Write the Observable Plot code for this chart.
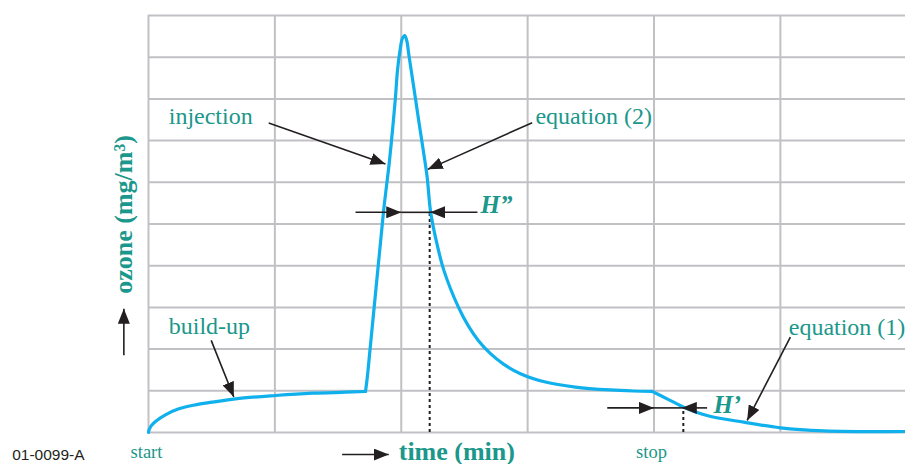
<!DOCTYPE html>
<html>
<head>
<meta charset="utf-8">
<script src="https://cdn.jsdelivr.net/npm/d3@7"></script>
<script src="https://cdn.jsdelivr.net/npm/@observablehq/plot@0.6"></script>
<style>
  html, body { margin: 0; padding: 0; background: #fff; }
  #chart svg { display: block; overflow: visible; }
</style>
</head>
<body>
<div id="chart"></div>
<script>
// Grid ticks (no labels in the original)
const xGridTicks = [0, 1, 2, 3, 4, 5];
const yGridTicks = [0, 1, 2, 3, 4, 5, 6, 7, 8, 9, 10];

// Ozone concentration curve, in three phases
// 1) build-up
const buildTime  = [0, 0.004, 0.024, 0.055, 0.134, 0.240, 0.372, 0.504, 0.688, 1.005, 1.295, 1.559, 1.717];
const buildOzone = [0, 0.060, 0.170, 0.265, 0.424, 0.568, 0.664, 0.727, 0.808, 0.887, 0.942, 0.966, 0.983];
// 2) injection peak and decay (equation 2)
const peakTime  = [1.717, 1.733, 1.859, 1.907, 1.954, 1.970, 1.990, 2.009, 2.028, 2.045, 2.059, 2.099, 2.138, 2.178,
                   2.205, 2.231, 2.271, 2.336, 2.453, 2.532, 2.611, 2.706, 2.809, 2.943, 3.141, 3.378, 3.655, 3.837, 3.985];
const peakOzone = [0.983, 1.367, 5.276, 6.523, 8.034, 8.68, 9.16, 9.45, 9.52, 9.38, 9.08, 8.28, 7.48, 6.69,
                   6.12, 5.32, 4.68, 3.90, 3.00, 2.55, 2.20, 1.89, 1.64, 1.41, 1.21, 1.09, 1.02, 0.995, 0.985];
// 3) after stop (equation 1)
const stopTime  = [3.985, 4.051, 4.156, 4.235, 4.420, 4.710, 5.000, 5.343, 5.989];
const stopOzone = [0.985, 0.887, 0.727, 0.607, 0.408, 0.247, 0.113, 0.041, 0.024];

// Annotation labels
const labelText = ["injection", "equation (2)", "build-up", "equation (1)"];
const labelX    = [0.16, 3.062, 0.16, 5.066];
const labelY    = [7.39, 7.39, 2.37, 2.34];

const markText = ["H\u201D", "H\u2019"];
const markX    = [2.627, 4.47];
const markY    = [5.26, 0.456];

const endText = ["start", "stop"];
const endX    = [-0.142, 3.858];
const endY    = [-0.6, -0.6];

const xTitle = "time (min)";
const yTitle = "ozone (mg/m\u00B3)";
const figId  = "01-0099-A";

// Pointer arrows (from -> to)
const arrowX1 = [0.951, 3.036, 0.496, 5.079, 1.638, 2.603, 3.63, 4.42, 1.532, -0.195];
const arrowY1 = [7.42, 7.43, 2.21, 2.29, 5.28, 5.28, 0.59, 0.59, -0.528, 1.85];
const arrowX2 = [1.875, 2.21, 0.675, 4.737, 2.00, 2.228, 4.00, 4.22, 1.901, -0.195];
const arrowY2 = [6.44, 6.31, 0.85, 0.29, 5.28, 5.28, 0.59, 0.59, -0.528, 2.97];

// Plain connecting segments between the H arrow heads
const barX1 = [2.00, 4.00];
const barX2 = [2.228, 4.22];
const barY  = [5.28, 0.59];

// Dotted drop lines
const dropX = [2.225, 4.232];
const dropTop = [5.28, 0.59];

const phase = (ts, os, k) => ts.map((t, i) => ({t, o: os[i], k}));
const curve = [
  ...phase(buildTime, buildOzone, "build"),
  ...phase(peakTime, peakOzone, "peak"),
  ...phase(stopTime, stopOzone, "stop")
];
const labels = labelText.map((s, i) => ({s, x: labelX[i], y: labelY[i]}));
const marks = markText.map((s, i) => ({s, x: markX[i], y: markY[i]}));
const ends = endText.map((s, i) => ({s, x: endX[i], y: endY[i]}));
const arrows = arrowX1.map((x1, i) => ({x1, y1: arrowY1[i], x2: arrowX2[i], y2: arrowY2[i]}));
const bars = barX1.map((x1, i) => ({x1, x2: barX2[i], y: barY[i]}));
const drops = dropX.map((x, i) => ({x, y1: 0, y2: dropTop[i]}));

const TEAL = "#1b978b";
const BLUE = "#0fb0ec";
const GRID = "#c1c1c5";
const INK = "#231f20";

function headMarker(color) {
  const ns = "http://www.w3.org/2000/svg";
  const m = document.createElementNS(ns, "marker");
  m.setAttribute("viewBox", "-15 -6 15 12");
  m.setAttribute("markerWidth", "15");
  m.setAttribute("markerHeight", "12");
  m.setAttribute("refX", "0");
  m.setAttribute("refY", "0");
  m.setAttribute("orient", "auto");
  m.setAttribute("markerUnits", "userSpaceOnUse");
  const p = document.createElementNS(ns, "path");
  p.setAttribute("d", "M0,0L-15,-6L-15,6Z");
  p.setAttribute("fill", color);
  p.setAttribute("stroke", "none");
  m.appendChild(p);
  return m;
}

const chart = Plot.plot({
  width: 905,
  height: 464,
  marginLeft: 148,
  marginRight: 0,
  marginTop: 15,
  marginBottom: 32,
  style: {background: "#fff", overflow: "visible"},
  x: {domain: [0, 5.99], axis: null},
  y: {domain: [0, 10], axis: null},
  marks: [
    Plot.gridY(yGridTicks, {stroke: GRID, strokeOpacity: 1, strokeWidth: 2}),
    Plot.gridX(xGridTicks, {stroke: GRID, strokeOpacity: 1, strokeWidth: 2}),
    Plot.ruleX(drops, {x: "x", y1: "y1", y2: "y2", stroke: INK, strokeWidth: 2, strokeDasharray: "3,3"}),
    Plot.line(curve, {x: "t", y: "o", z: "k", stroke: BLUE, strokeWidth: 3.2, curve: "catmull-rom", strokeLinejoin: "round"}),
    Plot.link(bars, {x1: "x1", x2: "x2", y1: "y", y2: "y", stroke: INK, strokeWidth: 1.6}),
    Plot.link(arrows, {x1: "x1", y1: "y1", x2: "x2", y2: "y2", stroke: INK, strokeWidth: 1.6, markerEnd: headMarker}),
    Plot.text(labels, {x: "x", y: "y", text: "s", textAnchor: "start", lineAnchor: "bottom",
      fill: TEAL, fontFamily: "Liberation Serif", fontSize: 24}),
    Plot.text(marks, {x: "x", y: "y", text: "s", textAnchor: "start", lineAnchor: "bottom",
      fill: TEAL, fontFamily: "Liberation Serif", fontSize: 25, fontWeight: "bold", fontStyle: "italic"}),
    Plot.text(ends, {x: "x", y: "y", text: "s", textAnchor: "start", lineAnchor: "bottom",
      fill: TEAL, fontFamily: "Liberation Serif", fontSize: 18.5}),
    Plot.text([xTitle], {x: 1.98, y: -0.655, text: d => d, textAnchor: "start", lineAnchor: "bottom",
      fill: TEAL, fontFamily: "Liberation Serif", fontSize: 26, fontWeight: "bold"}),
    Plot.text([yTitle], {x: -0.129, y: 5.23, text: d => d, rotate: -90, textAnchor: "middle", lineAnchor: "bottom",
      fill: TEAL, fontFamily: "Liberation Serif", fontSize: 26, fontWeight: "bold"}),
    Plot.text([figId], {x: -1.079, y: -0.655, text: d => d, textAnchor: "start", lineAnchor: "bottom",
      fill: INK, fontFamily: "Liberation Sans", fontSize: 15.5})
  ]
});
document.getElementById("chart").appendChild(chart);
</script>
</body>
</html>
